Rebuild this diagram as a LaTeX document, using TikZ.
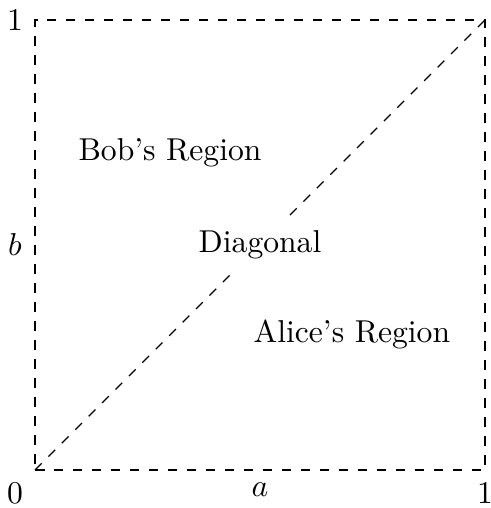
\documentclass[tikz,border=0pt]{standalone}
\begin{document}
\begin{tikzpicture}[x=1cm,y=1cm,
  frame/.style={dashed,line width=0.4pt},
  lbl/.style={inner sep=0pt}]
\useasboundingbox (-0.389,-0.422) rectangle (5.056,5.222);
\coordinate (O) at (0,0);
\coordinate (A) at (5,0);
\coordinate (C) at (5,5);
\coordinate (B) at (0,5);
\draw[frame] (O) -- (A) -- (C) -- (B) -- cycle;
\draw[frame] (O) -- (C);
\node[fill=white] (diag) at (2.5,2.5) {Diagonal};
\node (bob) at (1.5,3.53) {Bob's Region};
\node (alice) at (3.52,1.51) {Alice's Region};
\node[lbl] (one1) at (-0.222,5) {1};
\node[lbl] (zero) at (-0.222,-0.256) {0};
\node[lbl] (one2) at (5,-0.256) {1};
\node[lbl] (b) at (-0.222,2.5) {$b$};
\node[lbl] (a) at (2.5,-0.222) {$a$};
\end{tikzpicture}
\end{document}
